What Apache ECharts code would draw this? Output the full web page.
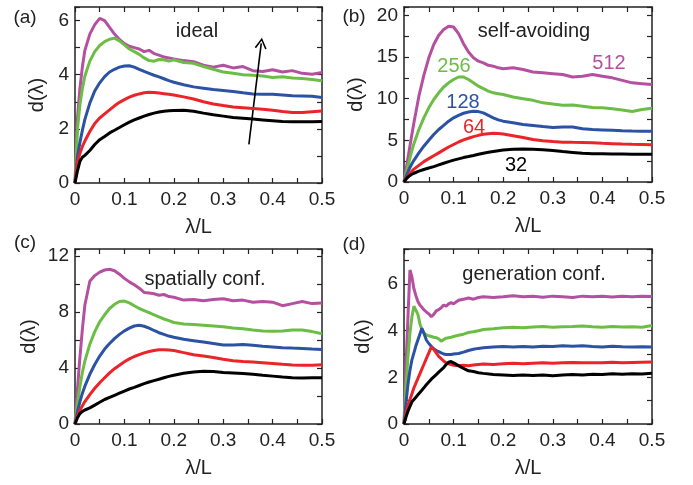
<!DOCTYPE html>
<html><head><meta charset="utf-8">
<script src="https://cdn.jsdelivr.net/npm/echarts@6/dist/echarts.min.js"></script>
<style>html,body{margin:0;padding:0;background:#fff}#c{width:693px;height:485px}</style>
</head><body><div id="c"></div>
<script>
// ---------- data ----------
const X_ABC = [0,0.005,0.01,0.015,0.02,0.03,0.04,0.05,0.06,0.07,0.08,0.09,0.1,0.11,0.12,0.13,0.14,0.15,0.16,0.17,0.18,0.19,0.2,0.22,0.24,0.26,0.28,0.3,0.32,0.34,0.36,0.38,0.4,0.42,0.44,0.46,0.48,0.5];
const X_D = [0,0.004,0.008,0.012,0.016,0.02,0.024,0.028,0.032,0.036,0.04,0.045,0.05,0.055,0.06,0.065,0.07,0.075,0.08,0.085,0.09,0.095,0.1,0.11,0.12,0.13,0.14,0.15,0.16,0.18,0.2,0.22,0.24,0.26,0.28,0.3,0.32,0.34,0.36,0.38,0.4,0.42,0.44,0.46,0.48,0.5];

// (a) ideal
const IDEAL_32  = [0,0.45,0.8,0.95,1.02,1.2,1.42,1.6,1.72,1.85,1.95,2.05,2.15,2.25,2.33,2.4,2.47,2.53,2.58,2.62,2.65,2.67,2.68,2.69,2.65,2.58,2.52,2.47,2.42,2.39,2.36,2.33,2.3,2.27,2.26,2.26,2.26,2.27];
const IDEAL_64  = [0,0.75,1.1,1.35,1.55,1.9,2.2,2.4,2.55,2.7,2.85,2.98,3.08,3.17,3.24,3.29,3.33,3.35,3.34,3.32,3.3,3.28,3.25,3.18,3.1,3.0,2.92,2.86,2.81,2.78,2.75,2.72,2.69,2.64,2.6,2.6,2.63,2.66];
const IDEAL_128 = [0,1.0,1.5,1.95,2.35,2.95,3.4,3.7,3.93,4.1,4.2,4.28,4.32,4.33,4.28,4.2,4.12,4.05,3.98,3.92,3.85,3.78,3.72,3.63,3.55,3.5,3.45,3.42,3.38,3.33,3.29,3.28,3.28,3.25,3.22,3.21,3.2,3.16];
const IDEAL_256 = [0,2.0,2.9,3.5,3.95,4.5,4.85,5.08,5.22,5.31,5.35,5.25,5.1,4.95,4.85,4.75,4.62,4.52,4.5,4.56,4.55,4.5,4.55,4.45,4.42,4.3,4.2,4.1,4.05,4.0,3.98,3.95,3.9,3.92,3.88,3.86,3.82,3.78];
const IDEAL_512 = [0,2.4,3.5,4.3,4.9,5.5,5.85,6.08,6.0,5.75,5.5,5.3,5.15,5.05,5.0,4.95,4.85,4.9,4.78,4.72,4.65,4.62,4.58,4.52,4.48,4.35,4.28,4.35,4.25,4.3,4.15,4.12,4.18,4.1,4.15,4.05,4.02,4.08];

// (b) self-avoiding
const SAW_32  = [0,0.4,0.7,0.9,1.05,1.3,1.5,1.68,1.85,2.05,2.25,2.45,2.62,2.78,2.93,3.05,3.18,3.32,3.45,3.56,3.66,3.75,3.83,3.92,3.95,3.93,3.88,3.78,3.65,3.55,3.45,3.4,3.38,3.36,3.35,3.34,3.34,3.34];
const SAW_64  = [0,0.5,0.9,1.25,1.55,2.0,2.45,2.8,3.15,3.5,3.85,4.2,4.5,4.8,5.05,5.25,5.45,5.6,5.72,5.8,5.84,5.82,5.75,5.55,5.35,5.1,4.95,4.85,4.78,4.76,4.75,4.72,4.65,4.6,4.55,4.52,4.5,4.48];
const SAW_128 = [0,0.8,1.5,2.1,2.6,3.5,4.3,5.0,5.7,6.3,6.8,7.3,7.7,8.0,8.25,8.4,8.48,8.45,8.3,8.0,7.7,7.45,7.3,7.1,6.9,6.78,6.65,6.55,6.6,6.6,6.4,6.3,6.25,6.2,6.15,6.12,6.1,6.08];
const SAW_256 = [0,1.2,2.4,3.6,4.6,6.3,7.7,8.9,9.9,10.7,11.4,11.9,12.3,12.6,12.6,12.3,11.9,11.5,11.2,10.9,10.7,10.6,10.5,10.2,10.0,9.8,9.5,9.35,9.2,9.25,9.1,8.95,8.9,8.8,8.65,8.45,8.7,8.85];
const SAW_512 = [0,1.8,3.6,5.4,7.1,10.3,12.8,14.9,16.5,17.6,18.3,18.7,18.6,17.8,16.6,15.6,14.9,14.5,14.3,14.0,13.9,13.7,13.6,13.7,13.5,13.2,13.1,13.0,12.9,12.6,12.7,12.9,12.7,12.5,12.2,11.9,11.8,11.7];

// (c) spatially confined
const SPAT_32  = [0,0.45,0.75,0.9,1.0,1.15,1.35,1.55,1.75,1.9,2.05,2.2,2.35,2.5,2.62,2.75,2.88,3.0,3.1,3.2,3.3,3.4,3.48,3.62,3.72,3.76,3.75,3.68,3.65,3.6,3.55,3.48,3.42,3.35,3.3,3.28,3.3,3.3];
const SPAT_64  = [0,0.6,1.0,1.3,1.6,2.1,2.55,2.95,3.3,3.65,3.95,4.2,4.45,4.65,4.82,4.95,5.08,5.18,5.25,5.3,5.3,5.28,5.25,5.1,4.95,4.85,4.75,4.62,4.52,4.47,4.43,4.38,4.32,4.26,4.22,4.2,4.2,4.23];
const SPAT_128 = [0,0.9,1.6,2.2,2.7,3.55,4.25,4.85,5.35,5.75,6.1,6.4,6.65,6.85,7.0,7.05,6.98,6.85,6.68,6.52,6.4,6.28,6.2,6.05,5.95,5.85,5.75,5.65,5.65,5.68,5.62,5.55,5.5,5.45,5.42,5.4,5.35,5.33];
const SPAT_256 = [0,1.5,2.7,3.7,4.5,5.7,6.6,7.3,7.8,8.25,8.55,8.75,8.78,8.65,8.45,8.25,8.1,7.95,7.8,7.65,7.5,7.38,7.25,7.15,7.1,7.05,7.0,6.95,6.85,6.8,6.72,6.65,6.62,6.65,6.72,6.72,6.6,6.45];
const SPAT_512 = [0,2.5,4.8,6.8,8.5,10.2,10.6,10.85,11.0,11.05,10.95,10.7,10.4,10.15,9.95,9.7,9.4,9.35,9.3,9.2,9.25,9.1,9.05,8.85,8.9,8.8,8.9,8.95,8.8,8.85,8.7,8.75,8.7,8.45,8.6,8.75,8.6,8.65];

// (d) generation confined
const GEN_32  = [0,0.3,0.55,0.75,0.95,1.05,1.15,1.25,1.35,1.45,1.55,1.68,1.8,1.92,2.02,2.12,2.22,2.32,2.42,2.55,2.65,2.68,2.62,2.5,2.38,2.28,2.25,2.2,2.17,2.12,2.1,2.08,2.1,2.08,2.1,2.07,2.1,2.12,2.1,2.13,2.12,2.15,2.13,2.15,2.14,2.17];
const GEN_64  = [0,0.45,0.8,1.05,1.3,1.55,1.75,1.95,2.15,2.35,2.55,2.8,3.05,3.3,3.2,3.05,2.9,2.8,2.7,2.62,2.58,2.55,2.52,2.5,2.52,2.5,2.53,2.55,2.57,2.55,2.58,2.6,2.58,2.6,2.62,2.6,2.62,2.64,2.62,2.63,2.62,2.65,2.63,2.64,2.65,2.66];
const GEN_128 = [0,0.9,1.7,2.3,2.75,3.05,3.35,3.6,3.85,4.1,3.9,3.6,3.45,3.33,3.22,3.15,3.1,3.05,3.0,2.98,2.98,2.98,3.0,3.02,3.08,3.15,3.2,3.24,3.27,3.3,3.32,3.3,3.32,3.3,3.33,3.32,3.35,3.33,3.35,3.32,3.3,3.33,3.31,3.3,3.31,3.3];
const GEN_256 = [0,1.6,2.9,3.9,4.6,5.05,5.1,4.7,4.3,4.05,3.9,3.82,3.78,3.75,3.72,3.7,3.65,3.55,3.62,3.68,3.7,3.72,3.75,3.8,3.85,3.92,3.95,4.0,4.05,4.08,4.12,4.15,4.13,4.16,4.18,4.15,4.17,4.18,4.2,4.17,4.15,4.18,4.16,4.17,4.15,4.22];
const GEN_512 = [0,2.5,4.6,6.6,6.3,5.8,5.5,5.25,5.1,5.0,4.9,4.8,4.72,4.6,4.7,4.85,4.9,4.98,5.1,5.05,5.15,5.2,5.15,5.3,5.35,5.4,5.35,5.42,5.45,5.42,5.45,5.5,5.45,5.47,5.43,5.48,5.45,5.42,5.48,5.45,5.47,5.44,5.48,5.45,5.47,5.46];

const SIZE_LABELS = ['512','256','128','64','32'];
const PANEL_TAGS = ['(a)','(b)','(c)','(d)'];
const PANEL_TITLES = ['ideal','self-avoiding','spatially conf.','generation conf.'];
const ARROW_A = [[0.352,1.43],[0.377,5.16]];

// ---------- layout / style ----------
const FONT = 'Liberation Sans, Arial, Helvetica, sans-serif';
const COLORS = ['#b4509f','#6cbd45','#2c52a3','#ea2428','#000000'];
const INK = '#222';

const panels = [
  {grid:{left:75,top:7,width:247,height:176}, x:X_ABC, ys:[IDEAL_512,IDEAL_256,IDEAL_128,IDEAL_64,IDEAL_32], yMax:6.5, yStep:1, yLab:2, nameGap:28},
  {grid:{left:404,top:7,width:248,height:175}, x:X_ABC, ys:[SAW_512,SAW_256,SAW_128,SAW_64,SAW_32], yMax:21, yStep:2.5, yLab:5, nameGap:38},
  {grid:{left:75,top:249,width:247,height:175}, x:X_ABC, ys:[SPAT_512,SPAT_256,SPAT_128,SPAT_64,SPAT_32], yMax:12.5, yStep:2, yLab:4, nameGap:36},
  {grid:{left:404,top:249,width:248,height:175}, x:X_D, ys:[GEN_512,GEN_256,GEN_128,GEN_64,GEN_32], yMax:7.5, yStep:1, yLab:2, nameGap:31}
];

function xFmt(v){ const r=Math.round(v*1000)/1000; return Math.abs(r*10-Math.round(r*10))<1e-6 ? String(Math.round(r*10)/10) : ''; }
function yFmt(step){ return v => Math.abs(v/step-Math.round(v/step))<1e-6 ? String(Math.round(v*100)/100) : ''; }

const grids=[], xAxes=[], yAxes=[], series=[];
const lineAx = {show:true, onZero:false, lineStyle:{color:INK, width:1.5}};
const tick = {show:true, inside:true, length:5, lineStyle:{color:INK, width:1.2}};
panels.forEach((p,i)=>{
  grids.push(Object.assign({containLabel:false}, p.grid));
  const xb = {type:'value', gridIndex:i, min:0, max:0.5, interval:0.05, position:'bottom',
    axisLine:lineAx, axisTick:tick, splitLine:{show:false},
    axisLabel:{formatter:xFmt, color:INK, fontSize:19, fontFamily:FONT, margin:7},
    name:'λ/L', nameLocation:'middle', nameGap:34, nameTextStyle:{color:INK, fontSize:20, fontFamily:FONT}};
  const xt = {type:'value', gridIndex:i, min:0, max:0.5, interval:0.05, position:'top',
    axisLine:lineAx, axisTick:tick, splitLine:{show:false}, axisLabel:{show:false}};
  const yl = {type:'value', gridIndex:i, min:0, max:p.yMax, interval:p.yStep, position:'left',
    axisLine:lineAx, axisTick:tick, splitLine:{show:false},
    axisLabel:{formatter:yFmt(p.yLab), color:INK, fontSize:19, fontFamily:FONT, margin:6},
    name:'d(λ)', nameLocation:'middle', nameGap:p.nameGap, nameTextStyle:{color:INK, fontSize:20, fontFamily:FONT}};
  const yr = {type:'value', gridIndex:i, min:0, max:p.yMax, interval:p.yStep, position:'right',
    axisLine:lineAx, axisTick:tick, splitLine:{show:false}, axisLabel:{show:false}};
  xAxes.push(xb, xt); yAxes.push(yl, yr);
  p.ys.forEach((ys,k)=>{
    const s = {type:'line', xAxisIndex:2*i, yAxisIndex:2*i, showSymbol:false, symbol:'none',
      data: p.x.map((xv,j)=>[xv, ys[j]]), lineStyle:{color:COLORS[k], width:3}, z:2+k, silent:true};
    if(i===0 && k===4){
      s.markLine = {silent:true, animation:false, symbol:['none','path://M0,10 L5,0 L10,10 L8.8,10.8 L5,3 L1.2,10.8 Z'], symbolSize:[12,11],
        lineStyle:{color:'#000', width:1.6, type:'solid'}, label:{show:false},
        data:[[{coord:ARROW_A[0]},{coord:ARROW_A[1]}]]};
    }
    series.push(s);
  });
});

const txt = (x,y,t,size,color)=>({type:'text', x:x, y:y, style:{text:t, fill:color||INK, font:size+'px '+FONT, textAlign:'center', textVerticalAlign:'middle'}});
const graphic = [
  txt(25,18,PANEL_TAGS[0],19), txt(354,17,PANEL_TAGS[1],19), txt(25,243,PANEL_TAGS[2],19), txt(354,245,PANEL_TAGS[3],19),
  txt(197,31,PANEL_TITLES[0],20), txt(534,31,PANEL_TITLES[1],20), txt(205,279,PANEL_TITLES[2],20), txt(534,274,PANEL_TITLES[3],20),
  txt(609,63,SIZE_LABELS[0],20,COLORS[0]), txt(454,66,SIZE_LABELS[1],20,COLORS[1]), txt(463,102,SIZE_LABELS[2],20,COLORS[2]),
  txt(474,127,SIZE_LABELS[3],20,COLORS[3]), txt(516,165,SIZE_LABELS[4],20,COLORS[4])
];

const chart = echarts.init(document.getElementById('c'), null, {renderer:'canvas'});
chart.setOption({animation:false, backgroundColor:'#fff', grid:grids, xAxis:xAxes, yAxis:yAxes, series:series, graphic:graphic});
</script></body></html>
